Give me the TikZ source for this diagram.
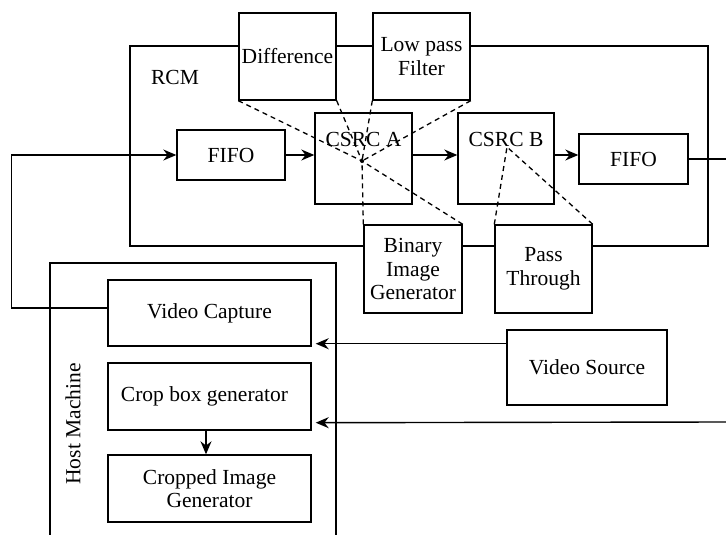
\documentclass[tikz,border=0pt]{standalone}
\usepackage{fontspec}
\setmainfont{Liberation Serif}
\usetikzlibrary{arrows.meta,calc}

\begin{document}
\begin{tikzpicture}[x=1pt,y=-1pt,line width=1.4pt,
  box/.style={draw,fill=white,inner sep=0pt,align=center,
    font=\fontsize{21.5}{23.5}\selectfont},
  lbl/.style={inner sep=0pt,font=\fontsize{21.5}{23.5}\selectfont},
  flow/.style={-{Stealth[length=13pt,width=11pt]}},
  proj/.style={dash pattern=on 5pt off 4pt,line width=1.3pt}]
\useasboundingbox (0,0) rectangle (726,535);

% reconfigurable module frame and host machine frame
\node[draw,minimum width=578,minimum height=200,inner sep=0pt] (rcm) at (419,146) {};
\node[lbl] (rcmlbl) at (175,77) {RCM};
\draw (50,535) |- (336,263) -- (336,535);
\node[lbl,rotate=90] (hostlbl) at (73,424) {Host Machine};

% processing kernels
\node[box,minimum width=97,minimum height=87] (diff) at (287.5,56.5) {Difference};
\node[box,minimum width=97,minimum height=87] (lpf) at (421.5,56.5) {Low pass\\Filter};
\node[box,minimum width=98,minimum height=88] (big) at (413,269) {Binary\\Image\\Generator};
\node[box,minimum width=97,minimum height=88] (pass) at (543.5,269) {Pass\\Through};

% data path
\node[box,minimum width=108,minimum height=50] (fifol) at (231,155) {FIFO};
\node[box,minimum width=97,minimum height=91] (csrca) at (363.5,158.5) {};
\node[lbl] (csrcatxt) at ($(csrca.north)+(0,27)$) {CSRC A};
\node[box,minimum width=96,minimum height=91] (csrcb) at (506,158.5) {};
\node[lbl] (csrcbtxt) at ($(csrcb.north)+(0,27)$) {CSRC B};
\node[box,minimum width=109,minimum height=50] (fifor) at (633.5,159) {FIFO};

% host side
\node[box,minimum width=203,minimum height=66] (vc) at (209.5,313) {Video Capture};
\node[box,minimum width=203,minimum height=67] (cbg) at (209.5,396.5) {\hspace*{-10pt}Crop box generator};
\node[box,minimum width=203,minimum height=67] (cig) at (209.5,488.5) {Cropped Image\\Generator};
\node[box,minimum width=160,minimum height=75] (vs) at (587,367.5) {Video Source};

% connectors
\coordinate (vcin) at ($(vc.south east)+(4,-3)$);
\coordinate (cbin) at ($(cbg.south east)+(4,-8)$);
\coordinate (feed) at (726,422);
\coordinate (outlet) at (726,159);

\draw[flow] ($(vc.west)+(0,-5)$) -- ++(-96,0) |- (fifol.west);
\draw[flow] (fifol.east) -- (csrca.west |- fifol.east);
\draw[flow] (csrca.east |- fifol.east) -- (csrcb.west |- fifol.east);
\draw[flow] (csrcb.east |- fifol.east) -- (fifor.west |- fifol.east);
\draw (fifor.east) -- (outlet);
\draw[flow] (vs.west |- vcin) -- (vcin);
\draw[flow] (feed) -- (cbin);
\draw[flow] ($(cbg.south)+(-3.5,0)$) -- ($(cig.north)+(-3.5,0)$);

% kernel projections onto the CSRC cells
\coordinate (fa) at (362,161);
\coordinate (fb) at (507,147);
\draw[proj] (diff.south west) -- (fa);
\draw[proj] (diff.south east) -- (fa);
\draw[proj] (lpf.south west) -- (fa);
\draw[proj] (lpf.south east) -- (fa);
\draw[proj] (big.north west) -- (fa);
\draw[proj] (big.north east) -- (fa);
\draw[proj] (pass.north west) -- (fb);
\draw[proj] (pass.north east) -- (fb);
\fill (fa) circle (2);
\end{tikzpicture}
\end{document}
